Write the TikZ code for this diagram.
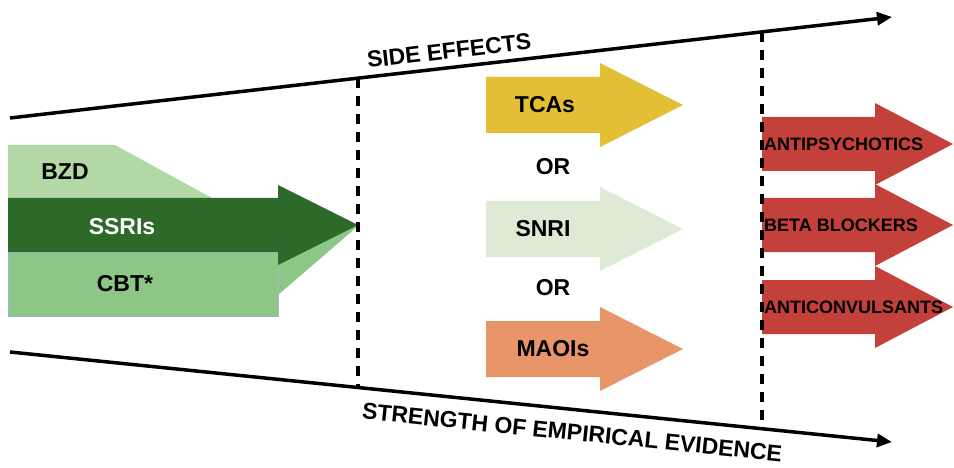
\documentclass[tikz,border=0pt]{standalone}
\usepackage{fontspec}
\setmainfont{Liberation Sans}
\usetikzlibrary{arrows.meta}

\definecolor{bzdgreen}{HTML}{B2D8A6}
\definecolor{ssrigreen}{HTML}{2D6A29}
\definecolor{cbtgreen}{HTML}{8DC785}
\definecolor{cbtline}{HTML}{9DB5E0}
\definecolor{tcayellow}{HTML}{E2BF35}
\definecolor{snrigreen}{HTML}{DEE9D6}
\definecolor{maoiorange}{HTML}{E8956A}
\definecolor{redarrow}{HTML}{C4403A}

% fat arrow: colour, left x, head x, tip x, centre y, body half height, head half height
\newcommand{\fatarrow}[7]{%
  \fill[#1] (#2,#5-#6) -- (#3,#5-#6) -- (#3,#5-#7) -- (#4,#5)
    -- (#3,#5+#7) -- (#3,#5+#6) -- (#2,#5+#6) -- cycle;}

\begin{document}
\begin{tikzpicture}[x=1pt, y=-1pt,
    axis/.style={line width=3.5pt, -{Triangle[length=15pt, width=13pt]}},
    divider/.style={line width=3.5pt, dash pattern=on 10pt off 8pt},
    bigtext/.style={font=\fontsize{23}{27}\selectfont\bfseries, inner sep=0pt},
    smalltext/.style={font=\fontsize{18}{21}\selectfont\bfseries, inner sep=0pt},
  ]
  \useasboundingbox (0,0) rectangle (954,468);

  % first line: BZD, SSRIs, CBT
  \fill[bzdgreen] (8,145) -- (115,145) -- (265,227) -- (8,227) -- cycle;
  \fill[cbtgreen] (8,240) -- (278,240) -- (358,226) -- (278,295) -- (278,316) -- (8,316) -- cycle;
  \draw[cbtline, line width=1pt] (8,252) rectangle (278,316);
  \fatarrow{ssrigreen}{8}{278}{358}{225}{27}{40}
  \node[bigtext] (bzd) at (65,172) {BZD};
  \node[bigtext, text=white] (ssri) at (122,227) {SSRIs};
  \node[bigtext] (cbt) at (125,284) {CBT*};

  % second line
  \fatarrow{tcayellow}{486}{600}{683}{105}{28}{42}
  \fatarrow{snrigreen}{486}{600}{683}{229}{28}{42}
  \fatarrow{maoiorange}{486}{600}{683}{349}{28}{42}
  \node[bigtext] (tca) at (545,105) {TCAs};
  \node[bigtext] (or1) at (553,167) {OR};
  \node[bigtext] (snri) at (543,229) {SNRI};
  \node[bigtext] (or2) at (553,288) {OR};
  \node[bigtext] (maoi) at (553,349) {MAOIs};

  % third line
  \fatarrow{redarrow}{762}{875}{953}{144}{27}{41}
  \fatarrow{redarrow}{762}{875}{953}{225}{27}{41}
  \fatarrow{redarrow}{762}{875}{953}{307}{27}{41}
  \node[smalltext, anchor=west] (antipsy) at (764,144) {ANTIPSYCHOTICS};
  \node[smalltext, anchor=west] (beta) at (764,225) {BETA BLOCKERS};
  \node[smalltext, anchor=west] (anticonv) at (764,307) {ANTICONVULSANTS};

  % axes
  \coordinate (top left) at (10,118);
  \coordinate (top right) at (892,17);
  \coordinate (bottom left) at (10,352);
  \coordinate (bottom right) at (892,442);
  \draw[axis] (top left) -- node[pos=0.5, sloped, above=7pt, bigtext] (side) {SIDE EFFECTS} (top right);
  \draw[axis] (bottom left) -- node[pos=0.64, sloped, below=13pt, bigtext] (strength) {STRENGTH OF EMPIRICAL EVIDENCE} (bottom right);

  % dividers
  \coordinate (div1 top) at (358,78);
  \coordinate (div1 bottom) at (358,388);
  \coordinate (div2 top) at (762,32);
  \coordinate (div2 bottom) at (762,429);
  \draw[divider] (div1 top) -- (div1 bottom);
  \draw[divider] (div2 top) -- (div2 bottom);
\end{tikzpicture}
\end{document}
